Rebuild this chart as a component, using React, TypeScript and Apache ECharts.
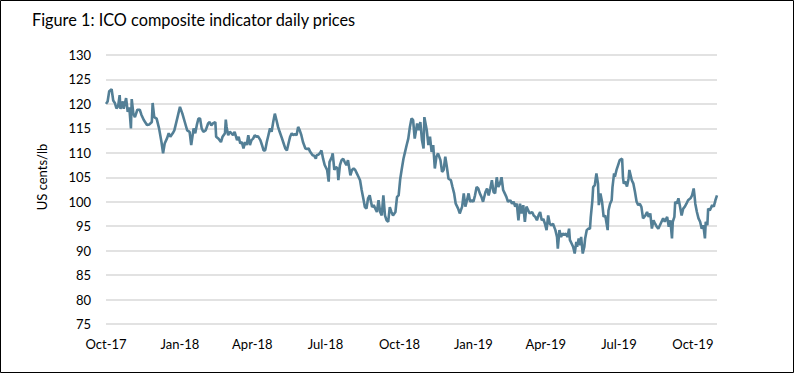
import React, { useEffect, useRef } from "react";
import * as echarts from "echarts";

const titleText = "Figure 1: ICO composite indicator daily prices";
const yAxisTitle = "US cents/lb";

// Quarter tick positions, in days since 1 Oct 2017, and their labels
const quarterDays = [0, 92, 182, 273, 365, 457, 547, 638, 730];
const quarterLabels = ["Oct-17", "Jan-18", "Apr-18", "Jul-18", "Oct-18", "Jan-19", "Apr-19", "Jul-19", "Oct-19"];
const axisEndDay = 760; // 31 Oct 2019

// [days since 1 Oct 2017, US cents/lb]
const prices2017: [number, number][] = [
  [0, 120], [2, 120.5], [4, 122.6], [7, 123], [9, 120.7], [11, 120.2], [13, 119.1], [15, 119.5], [17, 121.8], [18, 119],
  [21, 120.5], [22, 119], [25, 121.2], [27, 118.4], [29, 119.3], [31, 115], [32, 121], [34, 118], [36, 117.3], [39, 118.8],
  [42, 118.8], [44, 117.8], [47, 116.7], [51, 115.7], [54, 115.8], [57, 116.3], [58, 120.2], [60, 117.3], [63, 117], [66, 115],
  [69, 112.2], [71, 109.9], [73, 111.9], [76, 113], [78, 114], [80, 113.3], [83, 114], [85, 114.6], [89, 117.3],
];
const prices2018a: [number, number][] = [
  [92, 119.4], [95, 118], [98, 116.3], [101, 114.6], [104, 114.3], [106, 111.6], [109, 115], [111, 114], [113, 115.7], [115, 117],
  [117, 117], [119, 115], [121, 114.3], [124, 114.6], [127, 116], [129, 116.3],
  [131, 115.6], [133, 116], [136, 116.3], [137, 113.3], [140, 112.9], [143, 112.2], [145, 113.3], [148, 114], [149, 116.8], [150, 115.3],
  [152, 113.6], [154, 114.3], [156, 114], [158, 113.6], [160, 114.3], [163, 112.6], [165, 113.3], [167, 111.9], [169, 112.2], [171, 110.9],
  [173, 112.2], [175, 111.6], [177, 113.6], [179, 111.6], [181, 112.6], [183, 112.9], [185, 113.6], [187, 113.3], [189, 113.4], [192, 112.6],
  [194, 111.6], [196, 110.5], [198, 110.5], [200, 112.2], [202, 113.6], [204, 115], [206, 114.3], [208, 116.3], [210, 118], [212, 116.7],
  [214, 115.3], [216, 114.3], [219, 112.9], [221, 111.9], [223, 110.9], [225, 110.5], [227, 111.9], [229, 113.3], [231, 114], [233, 113.6],
  [235, 113.8], [237, 113.6], [239, 115.3], [241, 114.6], [243, 113.6], [245, 112.2], [248, 110.9], [250, 110.8], [252, 110.9], [254, 110.2],
];
const prices2018b: [number, number][] = [
  [257, 109.5], [259, 109.4], [261, 108.8], [262, 109.5], [264, 109.6], [266, 109.9], [268, 110.5], [270, 108.8], [272, 107.5], [275, 106.5],
  [277, 104.1], [278, 108.1], [281, 109.2], [282, 109.9], [284, 106.5], [286, 107.1], [288, 106.8], [289, 104.4], [291, 107.5], [293, 108.5],
  [295, 108.8], [297, 108.1], [299, 107.5], [301, 108.5], [304, 105.4], [306, 106.5], [308, 106.8], [310, 106.5], [312, 105.8], [314, 105.1],
  [316, 104.4], [318, 102.4], [320, 100.7], [322, 98.9], [324, 98.6], [326, 100.7], [328, 101.3], [331, 98.9], [333, 99.3], [335, 98.6],
  [337, 97.9], [339, 100.3], [341, 97.9], [343, 97.2], [345, 101.3], [347, 97.2], [349, 96.2], [351, 95.9], [353, 98.9], [355, 97.9],
  [357, 97.2], [360, 97.9], [362, 101], [364, 101.3], [366, 104.7], [368, 106.8], [370, 108.8], [372, 110.2], [374, 111.6], [376, 112.9],
  [378, 115.3], [380, 117], [382, 116.7], [384, 112.9], [387, 116], [389, 114.6], [391, 116.3], [393, 112.6], [395, 110.9], [396, 117.3],
  [399, 114.6], [401, 111.6], [403, 113.3], [405, 110.2], [407, 111.6], [409, 106.8], [411, 109.2], [413, 109.9], [416, 108.5], [418, 106.1],
  [420, 106.5], [422, 109.2], [424, 107.1], [426, 104.7], [429, 104.4], [431, 103], [433, 101.7], [435, 99.6], [438, 98.6], [440, 97.6],
  [443, 99], [445, 101.7], [447, 99], [449, 100.3], [451, 101.7], [453, 100], [455, 100.3],
];
const prices2019a: [number, number][] = [
  [457, 100], [459, 101.3], [461, 103], [463, 102.7], [465, 101.7], [467, 101], [469, 100], [472, 102], [474, 102.7], [476, 101.3],
  [478, 102.7], [480, 104.4], [482, 102], [484, 101.7], [486, 105], [488, 103], [490, 103.7], [492, 105], [494, 102.4], [496, 101.7],
  [498, 101], [500, 100], [503, 100.3], [505, 99.6], [507, 100], [509, 99], [511, 99.6], [513, 96.2], [515, 99.6], [517, 97.6],
  [519, 99.3], [521, 95.9], [523, 99], [525, 98.3], [527, 97.6], [530, 97.9], [532, 97.2], [534, 96.9], [536, 96.2], [538, 97.2],
  [540, 97.9], [542, 96.2], [544, 96.5], [546, 95.5], [548, 94.2], [550, 97.2], [552, 95.5], [554, 95.2], [556, 95.5], [559, 94.2],
  [561, 92.8], [562, 90.4], [564, 94.2], [566, 92.8], [568, 93.5], [570, 93.2], [572, 93.5], [574, 92.8], [576, 94.5], [577, 92.2],
  [579, 91.5], [581, 90.8], [583, 89.4], [585, 91.8], [586, 90.8], [588, 92.5], [590, 91.1], [591, 92.8], [593, 89.4], [595, 90.8],
  [596, 92.5], [598, 94.2], [600, 94.5], [602, 94.5], [603, 96.9], [605, 100.3], [606, 103], [608, 103.4], [610, 105.8], [612, 103.7],
  [613, 99.3], [615, 101.7], [617, 100], [619, 96.9], [621, 97.2], [622, 96.2], [624, 94.2], [625, 98.2], [627, 99.6], [629, 100.3],
  [630, 103], [632, 105.8], [633, 105.1], [635, 106.5], [637, 107.5],
];
const prices2019b: [number, number][] = [
  [639, 108.5], [642, 108.8], [643, 105.1], [644, 103.7], [646, 104.1], [648, 103.1], [650, 104.7], [651, 106.5], [653, 105.1], [654, 104.4],
  [656, 103.7], [658, 102], [660, 100], [662, 99.3], [664, 99.6], [666, 98.9], [668, 96.6], [671, 97.2], [673, 97.9], [675, 96.9],
  [677, 97.6], [679, 94.5], [681, 96.2], [683, 95.5], [685, 94.9], [687, 94.5], [689, 95.2], [691, 95.9], [693, 96.6], [695, 95.9],
  [698, 96.9], [700, 94.9], [702, 96.2], [704, 92.5], [705, 95.9], [707, 96.9], [708, 100], [710, 99.6], [712, 100.7], [714, 99],
  [716, 97.2], [718, 98.6], [720, 99], [722, 99.6], [724, 100.3], [727, 100.7], [729, 101.3], [731, 102.7], [732, 101.3], [733, 99.6],
  [735, 97.9], [737, 96.6], [739, 95.9], [741, 94.5], [743, 95.2], [745, 92.5], [746, 95.9], [748, 95.2], [749, 98.6], [751, 98.2],
  [754, 99.3], [756, 99], [758, 100.3], [760, 101.3],
];

const yMin = 75;
const yMax = 130;
const yStep = 5;

const FONT = "Lato, 'Open Sans', sans-serif";

export default function App() {
  const ref = useRef<HTMLDivElement>(null);

  useEffect(() => {
    if (!ref.current) return;
    const chart = echarts.init(ref.current, null, { renderer: "svg" });
    const data = [...prices2017, ...prices2018a, ...prices2018b, ...prices2019a, ...prices2019b];
    chart.setOption({
      animation: false,
      backgroundColor: "#ffffff",
      title: {
        text: titleText,
        left: 32,
        top: 11,
        padding: 0,
        textStyle: { fontFamily: FONT, fontSize: 16.3, fontWeight: "normal", color: "#000000" },
      },
      grid: { left: 106, right: 78, top: 55, bottom: 50, containLabel: false, outerBoundsMode: "none" },
      xAxis: {
        type: "value",
        min: 0,
        max: axisEndDay,
        axisLine: { show: false },
        axisTick: { show: false },
        splitLine: { show: false },
        axisLabel: {
          customValues: quarterDays,
          formatter: (v: number) => {
            const i = quarterDays.indexOf(Math.round(v));
            return i >= 0 ? quarterLabels[i] : "";
          },
          fontFamily: FONT,
          fontSize: 13,
          color: "#000000",
          margin: 13,
          hideOverlap: false,
        },
      },
      yAxis: {
        type: "value",
        min: yMin,
        max: yMax,
        interval: yStep,
        axisLine: { show: false },
        axisTick: { show: false },
        axisLabel: { fontFamily: FONT, fontSize: 13, color: "#000000", margin: 15 },
        splitLine: { lineStyle: { color: "#D9D9D9", width: 1.5 } },
      },
      graphic: [
        {
          type: "rect",
          shape: { x: 0.5, y: 0.5, width: 793, height: 372 },
          style: { fill: "none", stroke: "#000000", lineWidth: 1 },
          silent: true,
        },
        {
          type: "text",
          x: 42,
          y: 177,
          rotation: Math.PI / 2,
          style: {
            text: yAxisTitle,
            fontFamily: FONT,
            fontSize: 13,
            fill: "#000000",
            align: "center",
            verticalAlign: "middle",
          },
        },
      ],
      series: [
        {
          type: "line",
          data,
          showSymbol: false,
          symbol: "none",
          lineStyle: { color: "#537F96", width: 2.6 },
          emphasis: { disabled: true },
        },
      ],
    });
    return () => chart.dispose();
  }, []);

  return (
    <div
      ref={ref}
      style={{ position: "fixed", left: 0, top: 0, width: 795, height: 374 }}
    />
  );
}
